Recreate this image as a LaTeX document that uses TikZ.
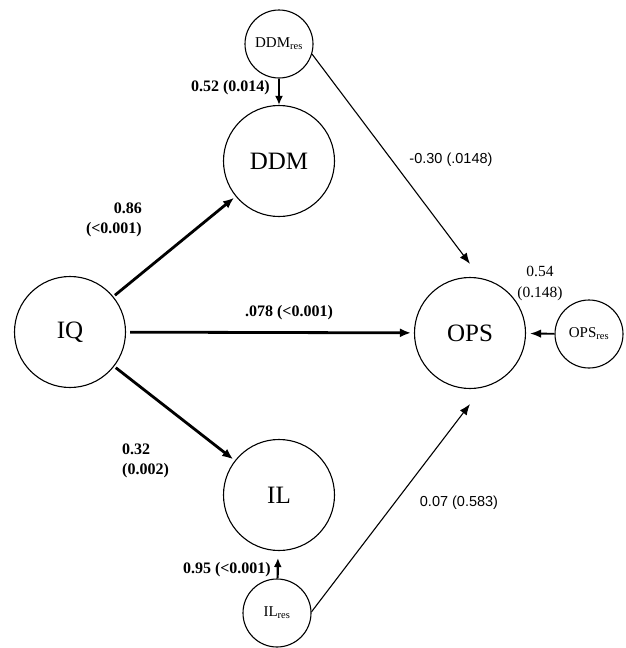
\documentclass[tikz,border=0pt]{standalone}
\usepackage{fontspec}
\setmainfont{Liberation Serif}
\newfontfamily\labsans{Liberation Sans}
\usetikzlibrary{arrows.meta}
\begin{document}
\begin{tikzpicture}[x=1pt,y=-1pt,
  bigvar/.style={circle,draw,line width=1.1pt,minimum size=111pt,inner sep=0pt,font=\fontsize{25}{27}\selectfont},
  resvar/.style={circle,draw,line width=1.1pt,minimum size=68pt,inner sep=0pt,font=\fontsize{15}{17}\selectfont},
  strong/.style={line width=2.8pt,-{Latex[length=11pt,width=9pt]}},
  weak/.style={line width=1.1pt,-{Latex[length=11pt,width=8.5pt]}},
  boldlab/.style={font=\fontsize{16}{20}\selectfont\bfseries,inner sep=0pt},
  sanslab/.style={font=\labsans\fontsize{14.5}{18}\selectfont,inner sep=0pt},
  seriflab/.style={font=\fontsize{15.5}{21}\selectfont,align=center,inner sep=0pt}]
\useasboundingbox (0,0) rectangle (626,648);

% latent variables
\node[bigvar] (IQ)  at (70,332)  {IQ};
\node[bigvar] (DDM) at (279,161) {DDM};
\node[bigvar] (IL)  at (279,495) {IL};
\node[bigvar] (OPS) at (470,333) {OPS};

% residual terms
\node[resvar] (DDMr) at (279,44)  {DDM\textsubscript{res}};
\node[resvar] (ILr)  at (277,613) {IL\textsubscript{res}};
\node[resvar] (OPSr) at (589,334) {OPS\textsubscript{res}};

% end points of the residual paths, just clear of OPS
\coordinate (opsTop) at ([yshift=13pt]OPS.north);
\coordinate (opsBot) at ([yshift=-15pt]OPS.south);

% structural paths
\draw[strong,shorten <=2pt,shorten >=2pt] (IQ) -- (DDM);
\draw[strong,shorten <=2pt,shorten >=2pt] (IQ) -- (IL);
\draw[strong,shorten <=4pt,shorten >=3pt] (IQ) -- (OPS);
\draw[strong,line width=2.2pt,-{Latex[length=9pt,width=8pt]}] (DDMr) -- (DDM);
\draw[strong,line width=2.2pt,-{Latex[length=9pt,width=8pt]},shorten >=7pt] (ILr) -- (IL);
\draw[weak] (DDMr.-17) -- (opsTop);
\draw[weak] (ILr.2) -- (opsBot);
\draw[weak,line width=1.8pt,shorten >=4pt] (OPSr) -- (OPS);

% path coefficients
\node[boldlab,anchor=east] (l1) at (270,88) {0.52 (0.014)};
\node[boldlab,anchor=east,align=right] (l2) at (142,220) {0.86\\(<0.001)};
\node[boldlab] (l3) at (289,313) {.078 (<0.001)};
\node[boldlab,anchor=west,align=left] (l4) at (122,461) {0.32\\(0.002)};
\node[boldlab,anchor=east] (l5) at (271,570) {0.95 (<0.001)};
\node[sanslab] (l6) at (451,160) {-0.30 (.0148)};
\node[seriflab] (l7) at (540,283) {0.54\\(0.148)};
\node[sanslab] (l8) at (459,503) {0.07 (0.583)};
\end{tikzpicture}
\end{document}
